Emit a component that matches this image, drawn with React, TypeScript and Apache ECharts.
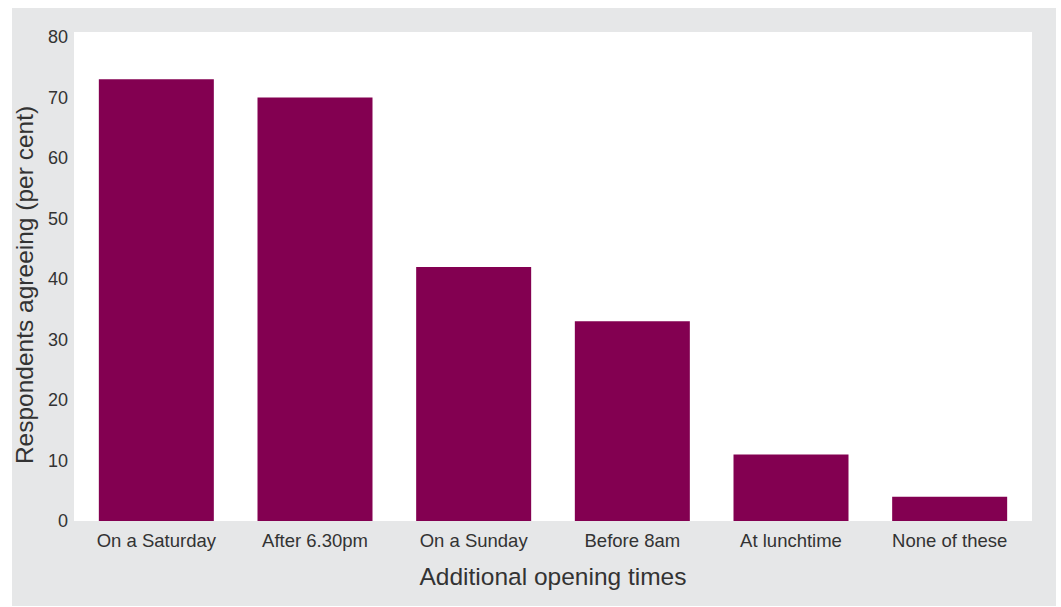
import React, { useEffect, useRef } from "react";
import * as echarts from "echarts";

const categories = ["On a Saturday", "After 6.30pm", "On a Sunday", "Before 8am", "At lunchtime", "None of these"];
const values = [73, 70, 42, 33, 11, 4];
const yTicks = [0, 10, 20, 30, 40, 50, 60, 70, 80];

const FONT = "'Liberation Sans', Arial, Helvetica, sans-serif";
const TEXT = "#333333";

export default function App() {
  const ref = useRef<HTMLDivElement>(null);
  useEffect(() => {
    if (!ref.current) return;
    const chart = echarts.init(ref.current, undefined, { renderer: "svg" });
    chart.setOption({
      animation: false,
      textStyle: { fontFamily: FONT },
      graphic: [
        { type: "rect", z: -10, shape: { x: 12, y: 8, width: 1044, height: 598 }, style: { fill: "#e6e7e8" }, silent: true },
        { type: "rect", z: -9, shape: { x: 74, y: 32, width: 958, height: 489 }, style: { fill: "#ffffff" }, silent: true },
      ],
      grid: { left: 77, right: 32, top: 37, bottom: 86, containLabel: false },
      xAxis: {
        type: "category",
        data: categories,
        axisLine: { show: false },
        axisTick: { show: false },
        axisLabel: { color: TEXT, fontSize: 18.5, margin: 10, fontFamily: FONT },
        name: "Additional opening times",
        nameLocation: "middle",
        nameGap: 43,
        nameTextStyle: { color: TEXT, fontSize: 24.5, fontFamily: FONT, verticalAlign: "top" },
      },
      yAxis: {
        type: "value",
        min: yTicks[0],
        max: yTicks[yTicks.length - 1],
        interval: 10,
        splitLine: { show: false },
        axisLine: { show: false },
        axisTick: { show: false },
        axisLabel: { color: TEXT, fontSize: 18, margin: 9, fontFamily: FONT },
        name: "Respondents agreeing (per cent)",
        nameLocation: "middle",
        nameGap: 40,
        nameRotate: 90,
        nameTextStyle: { color: TEXT, fontSize: 24.5, fontFamily: FONT, padding: [0, 0, 0, -12] },
      },
      series: [
        {
          type: "bar",
          data: values,
          barWidth: 115,
          itemStyle: { color: "#830051" },
        },
      ],
    });
    return () => chart.dispose();
  }, []);
  return <div ref={ref} style={{ position: "absolute", left: 0, top: 0, width: 1061, height: 607 }} />;
}
